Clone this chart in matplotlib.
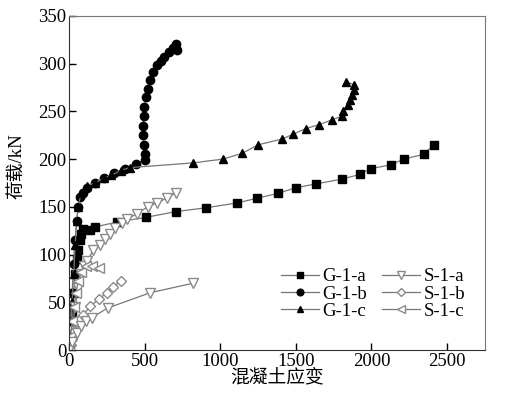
import matplotlib
matplotlib.use('Agg')
import matplotlib.pyplot as plt

plt.rcParams['font.family'] = ['Liberation Serif', 'Noto Sans CJK SC']

# G-1-a
ga_x = [0, 10, 20, 30, 40, 50, 60, 70, 80, 95, 140, 172, 317, 509, 707, 905, 1110, 1243,
        1380, 1500, 1632, 1805, 1923, 1996, 2128, 2214, 2346, 2412]
ga_y = [0, 20, 40, 60, 80, 95, 105, 115, 122, 127, 126, 129, 134, 139, 145, 149, 154, 159,
        164, 170, 174, 179, 184, 190, 194, 200, 205, 215]
# G-1-b
gb_x = [0, 10, 20, 30, 40, 50, 60, 75, 90, 120, 170, 230, 300, 370, 440, 500, 500, 495,
        490, 490, 492, 498, 508, 520, 535, 555, 580, 605, 630, 660, 690, 705, 712]
gb_y = [0, 30, 60, 90, 115, 135, 150, 160, 165, 170, 175, 180, 185, 190, 195, 199, 205, 215,
        225, 235, 245, 255, 265, 273, 283, 291, 298, 303, 307, 312, 316, 320, 314]
# G-1-c
gc_x = [0, 10, 20, 30, 40, 50, 60, 80, 120, 170, 230, 280, 340, 400, 820, 1018, 1144, 1252,
        1408, 1481, 1566, 1652, 1738, 1805, 1811, 1844, 1857, 1870, 1884, 1884, 1831]
gc_y = [0, 25, 50, 80, 110, 135, 150, 165, 172, 175, 180, 183, 188, 191, 196, 200, 206, 215,
        221, 226, 232, 236, 241, 245, 250, 257, 262, 267, 272, 278, 281]
# S-1-a
sa_x = [0, 20, 40, 60, 80, 100, 120, 160, 205, 240, 270, 305, 350, 385, 450, 520, 580, 645, 710]
sa_y = [0, 20, 45, 65, 80, 88, 93, 105, 110, 116, 122, 128, 133, 137, 143, 150, 154, 159, 165]
# S-1-a (second curve)
sa2_x = [0, 20, 50, 80, 110, 150, 255, 535, 820]
sa2_y = [0, 8, 18, 25, 30, 34, 44, 60, 70]
# S-1-b
sb_x = [0, 10, 20, 30, 50, 70, 95, 140, 195, 250, 290, 340]
sb_y = [0, 5, 12, 20, 28, 33, 37, 46, 53, 60, 66, 72]
# S-1-c
sc_x = [0, 10, 20, 30, 45, 60, 80, 110, 150, 200]
sc_y = [0, 15, 30, 45, 60, 72, 82, 88, 88, 86]

fig = plt.figure(figsize=(5.12, 3.96), dpi=100)
ax = fig.add_axes([0.135, 0.116, 0.812, 0.844])

line_c = '#777777'
sgray = '#8a8a8a'
ms = 5.5
ax.plot(ga_x, ga_y, color=line_c, lw=0.9, marker='s', ms=ms, mfc='black', mec='black', label='G-1-a')
ax.plot(gb_x, gb_y, color=line_c, lw=0.9, marker='o', ms=ms + 0.5, mfc='black', mec='black', label='G-1-b')
ax.plot(gc_x, gc_y, color=line_c, lw=0.9, marker='^', ms=ms + 0.5, mfc='black', mec='black', label='G-1-c')
ax.plot(sa_x, sa_y, color=line_c, lw=0.9, marker='v', ms=ms + 1, mfc='white', mec=sgray, label='S-1-a')
ax.plot(sb_x, sb_y, color=line_c, lw=0.9, marker='D', ms=ms - 0.5, mfc='white', mec=sgray, label='S-1-b')
ax.plot(sc_x, sc_y, color=line_c, lw=0.9, marker='<', ms=ms + 1, mfc='white', mec=sgray, label='S-1-c')
ax.plot(sa2_x, sa2_y, color=line_c, lw=0.9, marker='v', ms=ms + 1, mfc='white', mec=sgray, label='_nolegend_')

ax.set_xlim(0, 2750)
ax.set_ylim(0, 350)
ax.set_xticks([0, 500, 1000, 1500, 2000, 2500])
ax.set_yticks(range(0, 351, 50))
ax.tick_params(direction='in', length=5, width=1, labelsize=13.5, top=False, right=False, pad=2)
for s in ['top', 'right']:
    ax.spines[s].set_color('#777777')
for s in ['left', 'bottom']:
    ax.spines[s].set_color('#333333')

ax.set_xlabel('混凝土应变', fontsize=13.5, labelpad=-1)
ax.set_ylabel('荷载/kN', fontsize=13.5)
ax.yaxis.set_label_coords(-0.105, 0.55)

leg = ax.legend(ncol=2, loc='upper left', bbox_to_anchor=(0.47, 0.295), frameon=False, fontsize=13.5,
                handlelength=2.0, columnspacing=0.8, labelspacing=0.0, handletextpad=0.2, markerscale=0.8)

fig.savefig('out.png', dpi=100)
